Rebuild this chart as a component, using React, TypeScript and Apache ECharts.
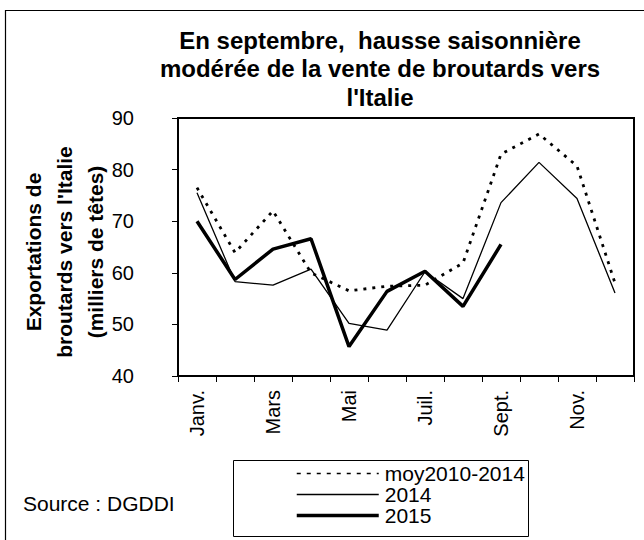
import React, { useEffect, useRef } from "react";
import * as echarts from "echarts";

const months = ["Janv.", "Févr.", "Mars", "Avr.", "Mai", "Juin", "Juil.", "Août", "Sept.", "Oct.", "Nov.", "Déc."];
const moy = [76.5, 63.9, 72.0, 60.0, 56.5, 57.4, 57.6, 61.9, 83.0, 86.9, 80.7, 58.0];
const y2014 = [75.5, 58.3, 57.6, 60.7, 50.2, 48.9, 60.2, 55.0, 73.6, 81.4, 74.4, 56.1];
const y2015 = [70.0, 58.7, 64.6, 66.6, 45.7, 56.4, 60.3, 53.5, 65.5, null, null, null];
const seriesNames = ["moy2010-2014", "2014", "2015"];
const titleText = "En septembre,  hausse saisonnière\nmodérée de la vente de broutards vers\nl'Italie";
const yName = "Exportations de\nbroutards vers l'Italie\n(milliers de têtes)";
const sourceText = "Source : DGDDI";

const FONT = "'Liberation Sans', Arial, sans-serif";

export default function App() {
  const ref = useRef<HTMLDivElement>(null);
  useEffect(() => {
    if (!ref.current) return;
    const chart = echarts.init(ref.current, null, { renderer: "svg" });
    chart.setOption({
      animation: false,
      backgroundColor: "#fff",
      textStyle: { fontFamily: FONT, color: "#000" },
      grid: {
        left: 178,
        top: 118,
        width: 456,
        height: 258,
        show: true,
        borderColor: "#000",
        borderWidth: 2,
        backgroundColor: "transparent",
      },
      xAxis: {
        type: "category",
        data: months,
        boundaryGap: true,
        axisLine: { show: true, lineStyle: { color: "#000", width: 2 } },
        axisTick: { show: true, interval: 0, length: 6, inside: false, lineStyle: { color: "#000", width: 1 } },
        axisLabel: {
          interval: 1,
          rotate: 90,
          margin: 14,
          fontSize: 20,
          color: "#000",
          fontFamily: FONT,
        },
        splitLine: { show: false },
      },
      yAxis: {
        type: "value",
        min: 40,
        max: 90,
        interval: 10,
        axisLine: { show: true, lineStyle: { color: "#000", width: 2 } },
        axisTick: { show: true, length: 6, inside: false, lineStyle: { color: "#000", width: 1 } },
        axisLabel: { margin: 44, fontSize: 20, color: "#000", fontFamily: FONT },
        splitLine: { show: false },
      },
      legend: {
        orient: "vertical",
        left: 295,
        top: 463,
        padding: 0,
        itemGap: 0,
        itemWidth: 82,
        itemHeight: 10,
        textStyle: { fontSize: 21, lineHeight: 19.7, color: "#000", fontFamily: FONT, padding: [0, 0, 0, 1] },
        itemStyle: { color: "rgba(0,0,0,0)", borderWidth: 0, opacity: 0 },
        data: [
          { name: seriesNames[0], lineStyle: { width: 1.5, type: [4, 6], color: "#000" } },
          { name: seriesNames[1], lineStyle: { width: 1.3, color: "#000" } },
          { name: seriesNames[2], lineStyle: { width: 3.5, color: "#000" } },
        ],
      },
      graphic: [
        {
          type: "rect",
          silent: true,
          shape: { x: 5.5, y: 10.5, width: 700, height: 600 },
          style: { fill: "none", stroke: "#000", lineWidth: 1.2 },
          z: -1,
        },
        {
          type: "rect",
          silent: true,
          shape: { x: 233.5, y: 460.5, width: 295, height: 76 },
          style: { fill: "none", stroke: "#000", lineWidth: 1 },
        },
        {
          type: "text",
          x: 380,
          y: 26,
          style: {
            text: titleText,
            font: `bold 24px ${FONT}`,
            fill: "#000",
            textAlign: "center",
            textVerticalAlign: "top",
            lineHeight: 28.5,
          },
        },
        {
          type: "text",
          x: 64,
          y: 252,
          rotation: Math.PI / 2,
          style: {
            text: yName,
            font: `bold 21px ${FONT}`,
            fill: "#000",
            textAlign: "center",
            textVerticalAlign: "middle",
            lineHeight: 31,
          },
        },
        {
          type: "text",
          x: 23,
          y: 503,
          style: {
            text: sourceText,
            font: `21px ${FONT}`,
            fill: "#000",
            textAlign: "left",
            textVerticalAlign: "middle",
          },
        },
      ],
      series: [
        {
          name: seriesNames[0],
          type: "line",
          data: moy,
          symbol: "none",
          lineStyle: { color: "#000", width: 2.8, type: [3, 6] },
          z: 2,
        },
        {
          name: seriesNames[1],
          type: "line",
          data: y2014,
          symbol: "none",
          lineStyle: { color: "#000", width: 1.3 },
          z: 3,
        },
        {
          name: seriesNames[2],
          type: "line",
          data: y2015,
          symbol: "none",
          connectNulls: false,
          lineStyle: { color: "#000", width: 3.5 },
          z: 4,
        },
      ],
    });
    return () => chart.dispose();
  }, []);
  return (
    <div
      ref={ref}
      style={{ position: "absolute", left: 0, top: 0, width: 644, height: 540 }}
    />
  );
}
